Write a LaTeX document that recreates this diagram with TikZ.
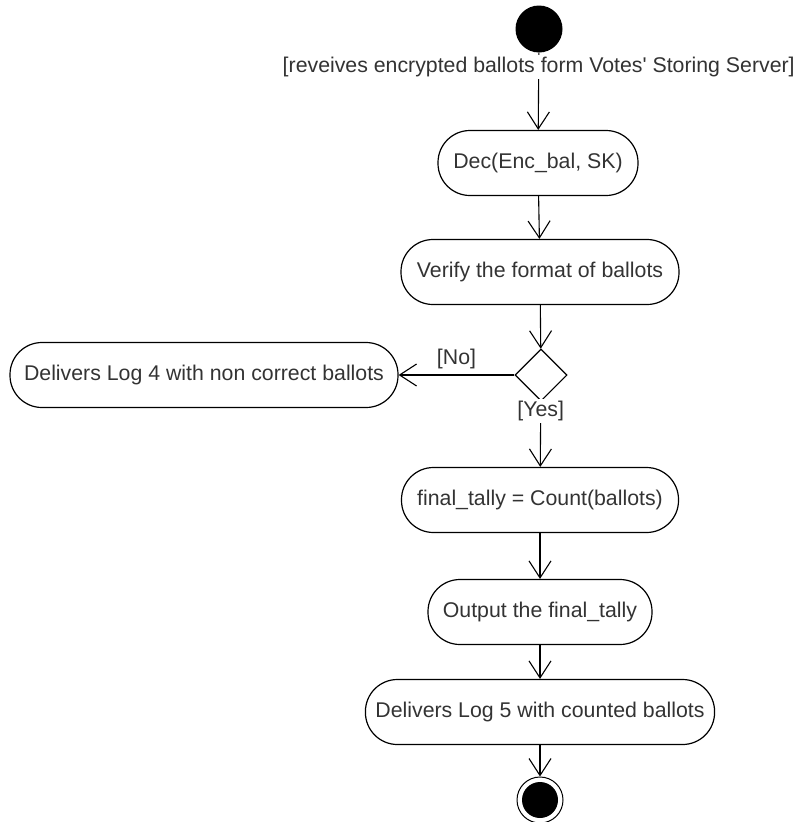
\documentclass[tikz,border=0pt]{standalone}
\usepackage{fontspec}
\setmainfont{Liberation Sans}
\usetikzlibrary{arrows.meta,shapes.geometric}
\begin{document}
\begin{tikzpicture}[x=1pt,y=-1pt,
  every node/.style={font=\fontsize{21.3}{25}\selectfont, text=black!80},
  action/.style={draw, line width=1.2pt, rectangle, rounded corners=32pt,
    minimum height=65pt, inner xsep=10pt},
  decision/.style={draw, line width=1.1pt, diamond, aspect=1, minimum size=52pt, inner sep=0pt},
  flow/.style={line width=1.1pt, -{Straight Barb[length=17pt,width=22pt,line width=1.1pt]}},
  guard/.style={fill=white, inner sep=2pt}]
\useasboundingbox (0,0) rectangle (803,822);

% initial and final states
\node[circle, fill=black, minimum size=47pt, inner sep=0pt] (start) at (539,29) {};
\node[circle, draw, line width=1pt, minimum size=46pt, inner sep=0pt] (stop) at (540,800) {};
\node[circle, fill=black, minimum size=36pt, inner sep=0pt] (stopdot) at (540,800) {};

% actions
\node[action, minimum width=200pt] (dec) at (538,163) {Dec(Enc\_bal, SK)};
\node[action, minimum width=278pt] (verify) at (540,272) {Verify the format of ballots};
\node[decision] (ok) at (541,375) {};
\node[action, minimum width=388pt] (log4) at (204,375) {Delivers Log 4 with non correct ballots};
\node[action, minimum width=277pt] (tally) at (540,500) {final\_tally = Count(ballots)};
\node[action, minimum width=224pt] (out) at (540,612) {Output the final\_tally};
\node[action, minimum width=304pt] (log5) at (540,712) {Delivers Log 5 with counted ballots};

% control flow
\draw[flow] (start) -- (dec)
  node[guard, pos=0.19] (recv) {[reveives encrypted ballots form Votes\textquotesingle{} Storing Server]};
\draw[flow] (dec) -- (verify);
\draw[flow] (verify) -- (ok);
\draw[flow] (ok) -- (log4) node[midway, above=2pt, fill=none] (no) {[No]};
\draw[flow] (ok) -- (tally) node[guard, pos=0.15] (yes) {[Yes]};
\draw[flow] (tally) -- (out);
\draw[flow] (out) -- (log5);
\draw[flow] (log5) -- (stop);
\end{tikzpicture}
\end{document}
